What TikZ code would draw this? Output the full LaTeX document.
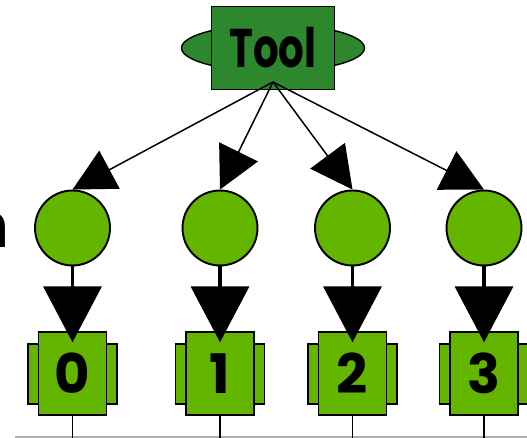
\documentclass[tikz,border=0pt]{standalone}
\usepackage{fontspec}
\setmainfont{Poppins}
\usepackage{xcolor}
\usepackage{graphicx}
\usepackage{tikz}
\usetikzlibrary{arrows.meta,shapes.geometric,positioning}
\definecolor{darkleaf}{RGB}{45,135,45}
\definecolor{leaf}{RGB}{99,181,0}
\definecolor{railgray}{RGB}{175,175,175}

\begin{document}
\begin{tikzpicture}[x=0.02cm, y=-0.02cm,
    slot/.style={draw, fill=leaf, line width=0.8pt, minimum width=1.36cm, minimum height=1.66cm, inner sep=0pt, font=\fontsize{31}{31}\selectfont\bfseries},
    tab/.style={draw, fill=leaf, line width=0.8pt, minimum width=1.78cm, minimum height=1.2cm},
    port/.style={circle, draw, fill=leaf, line width=1.1pt, minimum size=1.5cm, inner sep=0pt},
    fanout/.style={line width=0.85pt, -{Triangle[length=0.84cm, width=0.86cm]}},
    feed/.style={line width=2.2pt, -{Triangle[length=1.12cm, width=1.16cm]}}]
    \useasboundingbox (0,0) rectangle (527,438);

    % cut-off letter at the left edge
    \node[anchor=east, inner sep=0pt, font=\fontsize{36}{36}\selectfont] (cut) at (10,230) {n};

    % the tool: ellipse behind a box
    \node[ellipse, draw, fill=darkleaf, line width=0.8pt, minimum width=3.66cm, minimum height=0.94cm] (toolbg) at (273,48) {};
    \node[draw, fill=darkleaf, line width=0.8pt, minimum width=2.46cm, minimum height=1.66cm, font=\fontsize{31}{31}\selectfont\bfseries] (tool) at (273,48) {\scalebox{0.74}[1]{Tool}};
    \coordinate (hub) at (273,82);

    % ports
    \node[port] (p0) at (72.5,228) {};
    \node[port] (p1) at (220,228) {};
    \node[port] (p2) at (352.5,228) {};
    \node[port] (p3) at (484,228) {};

    % slots with side tabs
    \node[tab] (t0) at (72.5,374) {};
    \node[tab] (t1) at (220,374) {};
    \node[tab] (t2) at (352.5,374) {};
    \node[tab] (t3) at (484,374) {};
    \node[slot] (b0) at (72.5,373.5) {0};
    \node[slot] (b1) at (220,373.5) {1};
    \node[slot] (b2) at (352.5,373.5) {2};
    \node[slot] (b3) at (484,373.5) {3};

    % fan out from the tool
    \draw[fanout] (hub) -- (p0.north);
    \draw[fanout] (hub) -- (p1.north);
    \draw[fanout] (hub) -- (p2.north);
    \draw[fanout] (hub) -- (p3.north);

    % port into slot
    \draw[feed] (p0.south) -- ([yshift=-0.22cm]b0.north);
    \draw[feed] (p1.south) -- ([yshift=-0.22cm]b1.north);
    \draw[feed] (p2.south) -- ([yshift=-0.22cm]b2.north);
    \draw[feed] (p3.south) -- ([yshift=-0.22cm]b3.north);

    % rail at the bottom
    \coordinate (rail-l) at (15,437);
    \coordinate (rail-r) at (527,437);
    \coordinate (floor) at (0,440);
    \draw[railgray, line width=0.6pt] (rail-l) -- (rail-r);
    \draw[line width=0.85pt] (b0.south) -- (b0.south |- floor);
    \draw[line width=0.85pt] (b1.south) -- (b1.south |- floor);
    \draw[line width=0.85pt] (b2.south) -- (b2.south |- floor);
    \draw[line width=0.85pt] (b3.south) -- (b3.south |- floor);
\end{tikzpicture}
\end{document}
